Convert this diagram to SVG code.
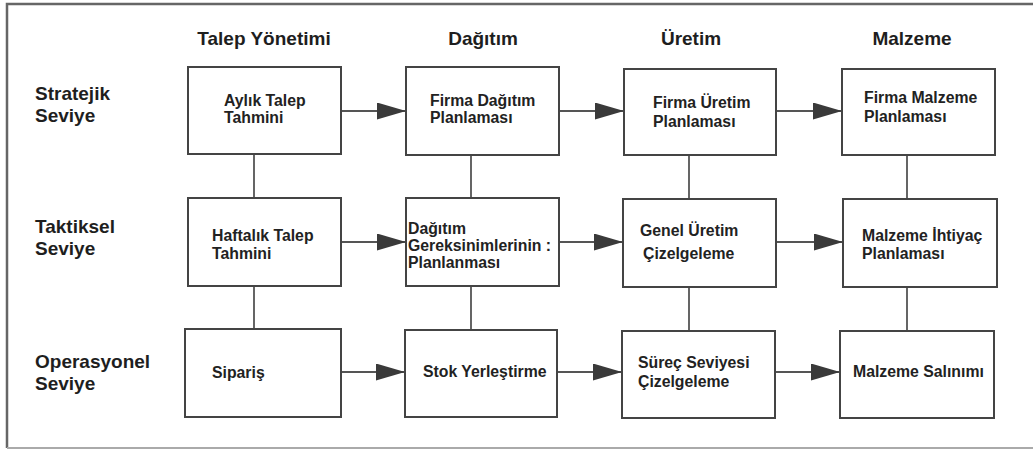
<svg xmlns="http://www.w3.org/2000/svg" width="1033" height="450" viewBox="0 0 1033 450">
  <style>
    .frame { stroke: #666; stroke-width: 2.5; fill: none; }
    .frame-b { stroke: #aaa; stroke-width: 2; fill: none; }
    .box { fill: #fff; stroke: #444; stroke-width: 2; }
    .link { stroke: #555; stroke-width: 1.8; fill: none; }
    .head { font-family: "Liberation Sans", Arial, sans-serif; font-weight: bold; font-size: 19px; fill: #1e1e1e; }
    .lbl { font-family: "Liberation Sans", Arial, sans-serif; font-weight: bold; font-size: 15.8px; fill: #222; }
  </style>
  <defs>
    <marker id="arrow" viewBox="0 0 29 17" refX="29" refY="8.5" markerWidth="29" markerHeight="17" markerUnits="userSpaceOnUse" orient="auto">
      <path d="M0,0 L29,8.5 L0,17 Z" fill="#3a3a3a"/>
    </marker>
  </defs>

  <rect width="1033" height="450" fill="#fff"/>

  <!-- outer frame: left, top and bottom edges -->
  <path class="frame" d="M7,448 V4 H1033"/>
  <path class="frame-b" d="M7,448 H1033"/>

  <!-- column headings -->
  <g id="col-headings">
    <text class="head" x="264" y="45" text-anchor="middle">Talep Yönetimi</text>
    <text class="head" x="483" y="45" text-anchor="middle">Dağıtım</text>
    <text class="head" x="691" y="45" text-anchor="middle">Üretim</text>
    <text class="head" x="912" y="45" text-anchor="middle">Malzeme</text>
  </g>

  <!-- row headings -->
  <g id="row-headings">
    <text class="head" x="35" y="100">Stratejik</text>
    <text class="head" x="35" y="122">Seviye</text>
    <text class="head" x="35" y="233">Taktiksel</text>
    <text class="head" x="35" y="255">Seviye</text>
    <text class="head" x="35" y="368">Operasyonel</text>
    <text class="head" x="35" y="390">Seviye</text>
  </g>

  <!-- connectors -->
  <g id="connectors">
    <!-- vertical links between levels -->
    <line class="link" x1="254" y1="154" x2="254" y2="198"/>
    <line class="link" x1="254" y1="286" x2="254" y2="329"/>
    <line class="link" x1="471" y1="155" x2="471" y2="198"/>
    <line class="link" x1="471" y1="286" x2="471" y2="330"/>
    <line class="link" x1="689" y1="155" x2="689" y2="199"/>
    <line class="link" x1="689" y1="287" x2="689" y2="331"/>
    <line class="link" x1="907" y1="155" x2="907" y2="199"/>
    <line class="link" x1="907" y1="287" x2="907" y2="331"/>
    <!-- horizontal flows -->
    <line class="link" x1="341" y1="111" x2="406" y2="111" marker-end="url(#arrow)"/>
    <line class="link" x1="559" y1="111" x2="624" y2="111" marker-end="url(#arrow)"/>
    <line class="link" x1="776" y1="111" x2="842" y2="111" marker-end="url(#arrow)"/>
    <line class="link" x1="341" y1="242" x2="406" y2="242" marker-end="url(#arrow)"/>
    <line class="link" x1="559" y1="242" x2="623" y2="242" marker-end="url(#arrow)"/>
    <line class="link" x1="776" y1="242" x2="843" y2="242" marker-end="url(#arrow)"/>
    <line class="link" x1="341" y1="372" x2="405" y2="372" marker-end="url(#arrow)"/>
    <line class="link" x1="557" y1="372" x2="622" y2="372" marker-end="url(#arrow)"/>
    <line class="link" x1="775" y1="372" x2="840" y2="372" marker-end="url(#arrow)"/>
  </g>

  <!-- strategic level -->
  <g id="aylik-talep">
    <rect class="box" x="188" y="67" width="153" height="87"/>
    <text class="lbl" x="224" y="106">Aylık Talep</text>
    <text class="lbl" x="224" y="123">Tahmini</text>
  </g>
  <g id="firma-dagitim">
    <rect class="box" x="406" y="67" width="153" height="88"/>
    <text class="lbl" x="430" y="106">Firma Dağıtım</text>
    <text class="lbl" x="430" y="123">Planlaması</text>
  </g>
  <g id="firma-uretim">
    <rect class="box" x="624" y="69" width="152" height="86"/>
    <text class="lbl" x="653" y="108">Firma Üretim</text>
    <text class="lbl" x="653" y="127">Planlaması</text>
  </g>
  <g id="firma-malzeme">
    <rect class="box" x="842" y="69" width="153" height="86"/>
    <text class="lbl" x="864" y="103">Firma Malzeme</text>
    <text class="lbl" x="864" y="122">Planlaması</text>
  </g>

  <!-- tactical level -->
  <g id="haftalik-talep">
    <rect class="box" x="188" y="198" width="153" height="88"/>
    <text class="lbl" x="212" y="241">Haftalık Talep</text>
    <text class="lbl" x="212" y="259">Tahmini</text>
  </g>
  <g id="dagitim-gereksinim">
    <rect class="box" x="406" y="198" width="153" height="88"/>
    <text class="lbl" x="408" y="234">Dağıtım</text>
    <text class="lbl" x="408" y="251">Gereksinimlerinin :</text>
    <text class="lbl" x="408" y="268">Planlanması</text>
    <line x1="559" y1="198" x2="559" y2="286" stroke="#444" stroke-width="2"/>
  </g>
  <g id="genel-uretim">
    <rect class="box" x="623" y="199" width="153" height="88"/>
    <text class="lbl" x="640" y="236">Genel Üretim</text>
    <text class="lbl" x="643" y="259">Çizelgeleme</text>
  </g>
  <g id="malzeme-ihtiyac">
    <rect class="box" x="843" y="199" width="154" height="88"/>
    <text class="lbl" x="862" y="241">Malzeme İhtiyaç</text>
    <text class="lbl" x="862" y="259">Planlaması</text>
  </g>

  <!-- operational level -->
  <g id="siparis">
    <rect class="box" x="185" y="329" width="156" height="88"/>
    <text class="lbl" x="212" y="378">Sipariş</text>
  </g>
  <g id="stok-yerlestirme">
    <rect class="box" x="405" y="330" width="152" height="87"/>
    <text class="lbl" x="423" y="377">Stok Yerleştirme</text>
  </g>
  <g id="surec-seviyesi">
    <rect class="box" x="622" y="331" width="153" height="87"/>
    <text class="lbl" x="638" y="368">Süreç Seviyesi</text>
    <text class="lbl" x="638" y="387">Çizelgeleme</text>
  </g>
  <g id="malzeme-salinimi">
    <rect class="box" x="840" y="331" width="154" height="87"/>
    <text class="lbl" x="853" y="377">Malzeme Salınımı</text>
  </g>
</svg>
